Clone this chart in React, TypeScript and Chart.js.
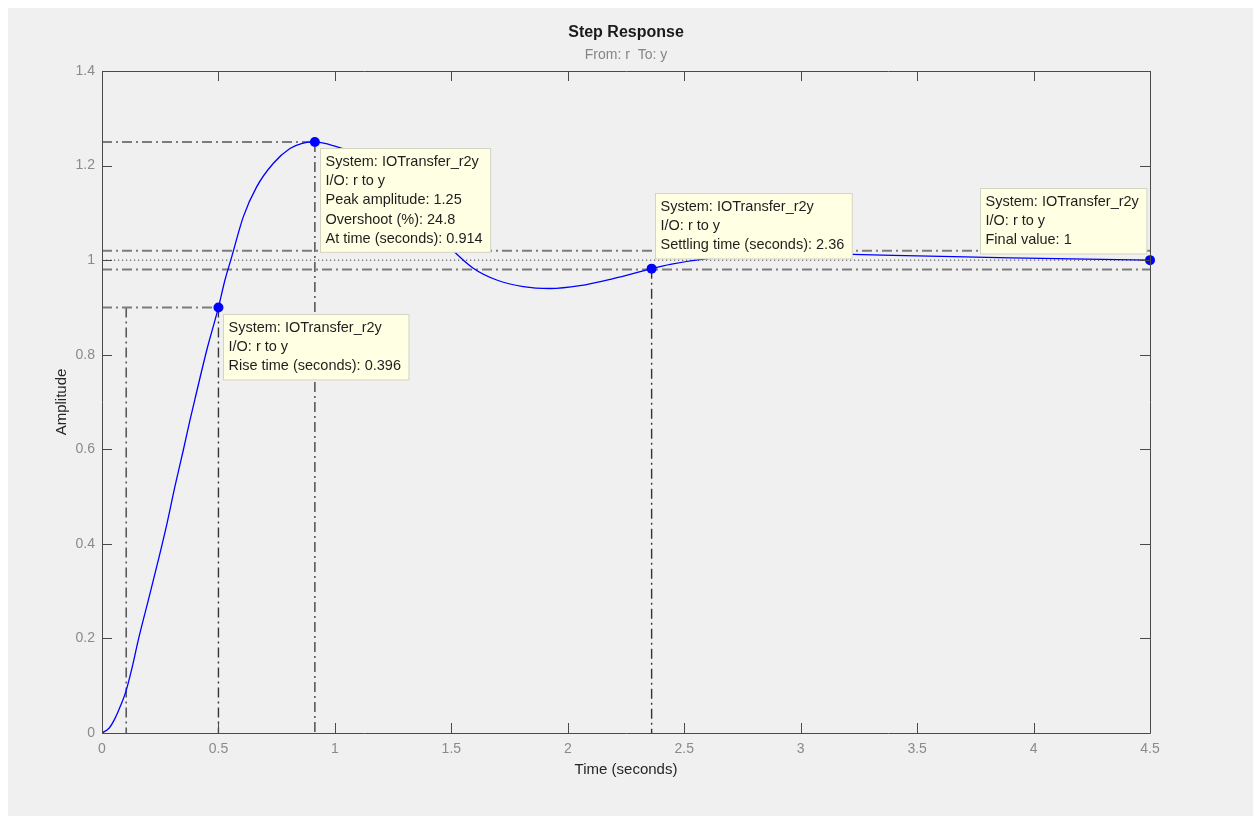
import { useEffect, useRef } from 'react';
import { Chart, registerables } from 'chart.js';

Chart.register(...registerables);

// ---- data ----
const timeS = [0, 0.03, 0.056, 0.08, 0.102, 0.13, 0.156, 0.2, 0.242, 0.28, 0.313, 0.349, 0.378, 0.4, 0.45, 0.5, 0.528, 0.557, 0.607, 0.664, 0.736, 0.807, 0.86, 0.914, 1.0, 1.1, 1.2, 1.3, 1.4, 1.5, 1.594, 1.695, 1.809, 1.924, 2.052, 2.195, 2.36, 2.44, 2.6, 2.8, 3.0, 3.22, 3.5, 3.8, 4.1, 4.5];
const amplitude = [0, 0.01, 0.031, 0.058, 0.087, 0.14, 0.197, 0.283, 0.366, 0.445, 0.521, 0.598, 0.662, 0.708, 0.81, 0.9, 0.958, 1.007, 1.092, 1.155, 1.205, 1.236, 1.247, 1.25, 1.241, 1.222, 1.185, 1.135, 1.08, 1.024, 0.983, 0.958, 0.944, 0.94, 0.946, 0.961, 0.982, 0.991, 1.003, 1.01, 1.013, 1.012, 1.009, 1.006, 1.003, 1.0];

const xTickValues = [0, 0.5, 1, 1.5, 2, 2.5, 3, 3.5, 4, 4.5];
const xTickLabels = ['0', '0.5', '1', '1.5', '2', '2.5', '3', '3.5', '4', '4.5'];
const yTickValues = [0, 0.2, 0.4, 0.6, 0.8, 1, 1.2, 1.4];
const yTickLabels = ['0', '0.2', '0.4', '0.6', '0.8', '1', '1.2', '1.4'];

const riseStartTime = 0.104;
const riseEndTime = 0.5;
const riseLevel = 0.9;
const peakTime = 0.914;
const peakAmplitude = 1.25;
const settleTime = 2.36;
const settleAmplitude = 0.982;
const settleBand = [0.98, 1.02];
const finalTime = 4.5;
const finalValue = 1;

const markerTimes = [riseEndTime, peakTime, settleTime, finalTime];
const markerAmps = [riseLevel, peakAmplitude, settleAmplitude, finalValue];

const tipRise = ['System: IOTransfer_r2y', 'I/O: r to y', 'Rise time (seconds): 0.396'];
const tipPeak = ['System: IOTransfer_r2y', 'I/O: r to y', 'Peak amplitude: 1.25', 'Overshoot (%): 24.8', 'At time (seconds): 0.914'];
const tipSettle = ['System: IOTransfer_r2y', 'I/O: r to y', 'Settling time (seconds): 2.36'];
const tipFinal = ['System: IOTransfer_r2y', 'I/O: r to y', 'Final value: 1'];

const FONT = '"Liberation Sans", Arial, Helvetica, sans-serif';

function seg(x1: number, y1: number, x2: number, y2: number, color: string, width: number, dash: number[]) {
  return {
    type: 'line' as const,
    data: [{ x: x1, y: y1 }, { x: x2, y: y2 }],
    borderColor: color,
    borderWidth: width,
    borderDash: dash,
    borderCapStyle: 'butt' as const,
    pointRadius: 0,
    fill: false,
    order: 5,
  };
}

const DASHDOT = [10, 4, 2, 4];
const HCOL = '#7c7c7c';
const VCOL = '#5a5a5a';

const frameTicksPlugin = {
  id: 'frameTicks',
  afterDatasetsDraw(chart: any) {
    const { ctx, chartArea } = chart;
    const { left, right, top, bottom } = chartArea;
    const xs = chart.scales.x;
    const ys = chart.scales.y;
    ctx.save();
    ctx.strokeStyle = '#4a4a4a';
    ctx.lineWidth = 1;
    ctx.beginPath();
    ctx.rect(Math.round(left) + 0.5, Math.round(top) + 0.5, Math.round(right - left), Math.round(bottom - top));
    ctx.stroke();
    const TL = 10;
    ctx.beginPath();
    xTickValues.forEach((v) => {
      const px = Math.round(xs.getPixelForValue(v)) + 0.5;
      ctx.moveTo(px, bottom);
      ctx.lineTo(px, bottom - TL);
      ctx.moveTo(px, top);
      ctx.lineTo(px, top + TL);
    });
    yTickValues.forEach((v) => {
      const py = Math.round(ys.getPixelForValue(v)) + 0.5;
      ctx.moveTo(left, py);
      ctx.lineTo(left + TL, py);
      ctx.moveTo(right, py);
      ctx.lineTo(right - TL, py);
    });
    ctx.stroke();
    ctx.restore();
  },
};

const tips = [
  { i: 0, lines: tipRise, place: 'br' },
  { i: 1, lines: tipPeak, place: 'br' },
  { i: 2, lines: tipSettle, place: 'ar' },
  { i: 3, lines: tipFinal, place: 'al' },
];

const dataTipPlugin = {
  id: 'dataTips',
  afterDraw(chart: any) {
    const { ctx } = chart;
    const xs = chart.scales.x;
    const ys = chart.scales.y;
    ctx.save();
    ctx.font = `14.5px ${FONT}`;
    const LH = 19.2;
    tips.forEach((tip) => {
      const px = xs.getPixelForValue(markerTimes[tip.i]);
      const py = ys.getPixelForValue(markerAmps[tip.i]);
      const w = Math.max(...tip.lines.map((l) => ctx.measureText(l).width)) + 13;
      const h = (tip.lines.length - 1) * LH + 27;
      let bx = px + 5;
      let by = py + 6.5;
      if (tip.place === 'ar') {
        bx = px + 3;
        by = py - 10 - h;
      } else if (tip.place === 'al') {
        bx = px - 4 - w;
        by = py - 7 - h;
      }
      bx = Math.round(bx) + 0.5;
      by = Math.round(by) + 0.5;
      ctx.fillStyle = '#ffffe3';
      ctx.strokeStyle = '#d4d4c4';
      ctx.lineWidth = 1;
      ctx.fillRect(bx, by, w, h);
      ctx.strokeRect(bx, by, w, h);
      ctx.fillStyle = '#1e1e1e';
      ctx.textBaseline = 'middle';
      ctx.textAlign = 'left';
      tip.lines.forEach((l, k) => {
        ctx.fillText(l, bx + 5, by + 13.5 + k * LH);
      });
    });
    ctx.restore();
  },
};

export default function App() {
  const ref = useRef<HTMLCanvasElement | null>(null);

  useEffect(() => {
    if (!ref.current) return;
    const chart = new Chart(ref.current, {
      type: 'line',
      data: {
        datasets: [
          {
            type: 'line',
            data: timeS.map((t, i) => ({ x: t, y: amplitude[i] })),
            borderColor: '#0000ff',
            borderWidth: 1.3,
            pointRadius: 0,
            cubicInterpolationMode: 'monotone',
            fill: false,
            order: 1,
          },
          {
            type: 'line',
            data: markerTimes.map((t, i) => ({ x: t, y: markerAmps[i] })),
            showLine: false,
            pointRadius: 5,
            pointBackgroundColor: '#0000ff',
            pointBorderColor: '#0000ff',
            pointBorderWidth: 0,
            clip: false,
            order: 0,
          },
          seg(0, peakAmplitude, peakTime, peakAmplitude, HCOL, 2, DASHDOT),
          seg(peakTime, peakAmplitude, peakTime, 0, VCOL, 1.6, DASHDOT),
          seg(0, riseLevel, riseEndTime, riseLevel, HCOL, 2, DASHDOT),
          seg(riseEndTime, riseLevel, riseEndTime, 0, '#333333', 1.4, DASHDOT),
          seg(riseStartTime, riseLevel, riseStartTime, 0, VCOL, 1.6, DASHDOT),
          seg(0, settleBand[1], finalTime, settleBand[1], HCOL, 2, DASHDOT),
          seg(0, settleBand[0], finalTime, settleBand[0], HCOL, 2, DASHDOT),
          seg(settleTime, settleAmplitude, settleTime, 0, '#333333', 1.4, DASHDOT),
          seg(0, finalValue, finalTime, finalValue, '#333333', 1, [1.2, 2.8]),
        ] as any,
      },
      options: {
        responsive: false,
        animation: false,
        events: [],
        layout: { padding: { left: 0, right: 103, top: 0, bottom: 0 } },
        plugins: {
          legend: { display: false },
          tooltip: { enabled: false },
          title: {
            display: true,
            text: 'Step Response',
            color: '#1a1a1a',
            fullSize: false,
            font: { family: FONT, size: 16, weight: 'bold', lineHeight: 1.2 },
            padding: { top: 14.7, bottom: 0 },
          },
          subtitle: {
            display: true,
            text: 'From: r  To: y',
            color: '#858585',
            fullSize: false,
            font: { family: FONT, size: 14, lineHeight: 1.2 },
            padding: { top: 4.7, bottom: 7.6 },
          },
        },
        scales: {
          x: {
            type: 'linear',
            min: 0,
            max: 4.5,
            grid: { display: false, drawTicks: false },
            border: { display: false },
            afterBuildTicks: (s: any) => {
              s.ticks = xTickValues.map((v) => ({ value: v }));
            },
            afterFit: (s: any) => {
              s.height = 83;
            },
            ticks: {
              autoSkip: false,
              maxRotation: 0,
              color: '#8a8a8a',
              padding: 7.6,
              font: { family: FONT, size: 14, lineHeight: 1.2 },
              callback: (_v: any, i: number) => xTickLabels[i],
            },
            title: {
              display: true,
              text: 'Time (seconds)',
              color: '#262626',
              font: { family: FONT, size: 15, lineHeight: 1.2 },
              padding: { top: 0, bottom: 37 },
            },
          },
          y: {
            type: 'linear',
            min: 0,
            max: 1.4,
            grid: { display: false, drawTicks: false },
            border: { display: false },
            afterBuildTicks: (s: any) => {
              s.ticks = yTickValues.map((v) => ({ value: v }));
            },
            afterFit: (s: any) => {
              s.width = 94;
            },
            ticks: {
              autoSkip: false,
              color: '#8a8a8a',
              padding: 7,
              font: { family: FONT, size: 14, lineHeight: 1.2 },
              callback: (_v: any, i: number) => yTickLabels[i],
            },
            title: {
              display: true,
              text: 'Amplitude',
              color: '#262626',
              font: { family: FONT, size: 15, lineHeight: 1.2 },
              padding: { top: 45, bottom: 0 },
            },
          },
        },
      } as any,
      plugins: [frameTicksPlugin, dataTipPlugin],
    });
    return () => chart.destroy();
  }, []);

  return (
    <div
      style={{
        position: 'fixed',
        left: 8,
        top: 8,
        width: 1245,
        height: 808,
        background: '#f0f0f0',
      }}
    >
      <canvas ref={ref} width={1245} height={808} style={{ display: 'block', width: 1245, height: 808 }} />
    </div>
  );
}
